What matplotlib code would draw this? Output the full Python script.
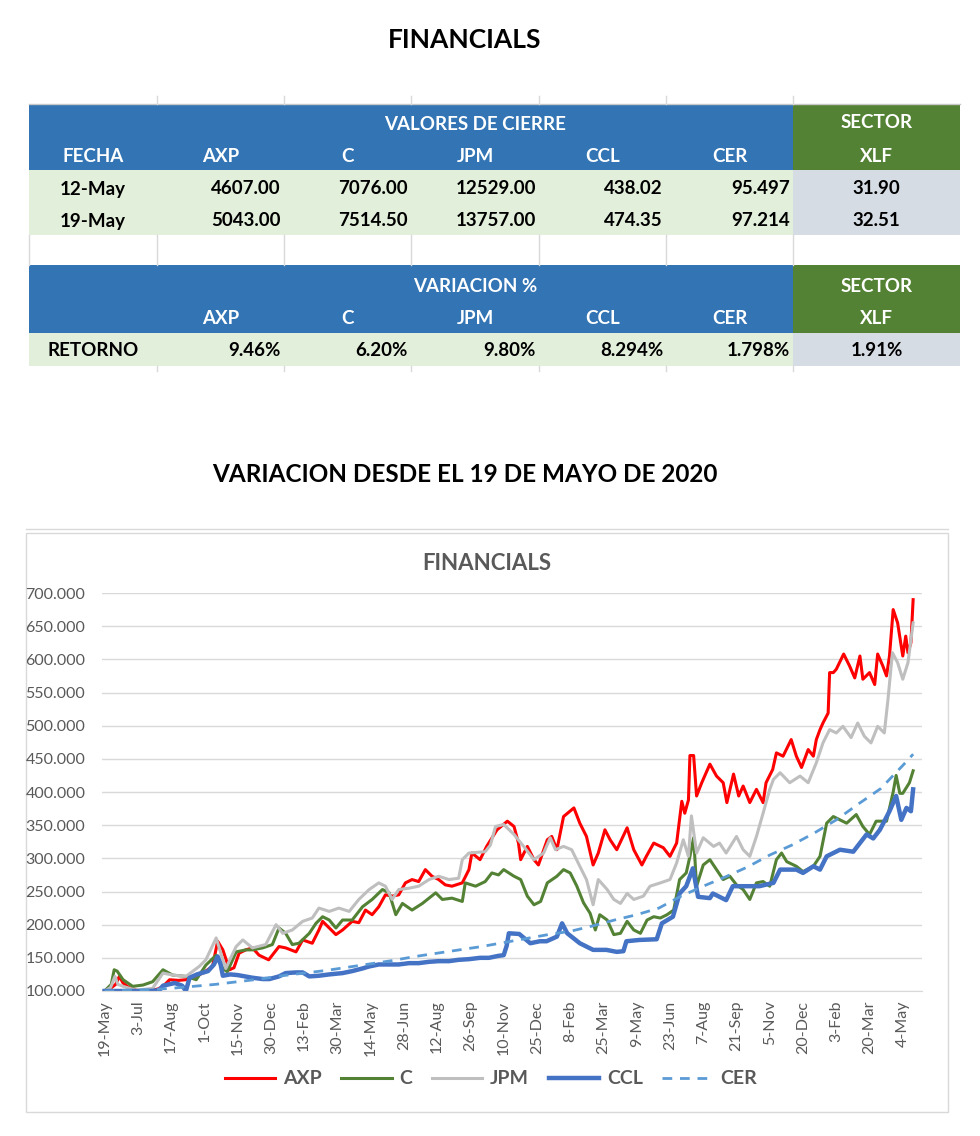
import numpy as np
import pandas as pd
import matplotlib.pyplot as plt
from matplotlib.patches import Rectangle
from matplotlib.ticker import FuncFormatter

plt.rcParams['font.family'] = ['Lato', 'DejaVu Sans']

# ---- table data ----
fechas = ['12-May', '19-May']
tickers = ['AXP', 'C', 'JPM', 'CCL', 'CER']
cierre_12 = [4607.00, 7076.00, 12529.00, 438.02, 95.497]
cierre_19 = [5043.00, 7514.50, 13757.00, 474.35, 97.214]
decimales = [2, 2, 2, 2, 3]
ret_decimales = [2, 2, 2, 3, 3]
xlf = [31.90, 32.51]

# ---- chart data (days since 19-May-2020, value base 100) ----
base = pd.Timestamp('2020-05-19')

axp_days = [0, 8, 15, 20, 25, 32, 43, 60, 72, 79, 88, 100, 110, 122, 133, 146, 153, 160, 169, 175,
            182, 191, 200, 209, 222, 236, 245, 259, 268, 281, 290, 295, 304, 313, 322, 335, 344, 353,
            362, 371, 380, 389, 398, 407, 416, 425, 434, 443, 452, 461, 470, 484, 493, 497, 508, 517,
            531, 545, 554, 560, 563, 572, 581, 587, 599, 605, 612, 621, 635, 643, 652, 661, 668, 677,
            684, 693, 707, 716, 727, 733, 743, 756, 765, 774, 781, 785, 790, 792, 797, 801, 808, 819,
            828, 837, 842, 851, 858, 864, 873, 882, 891, 895, 904, 909, 918, 929, 936, 943, 952, 959,
            963, 968, 972, 979, 981, 986, 990, 1000, 1008, 1015, 1022, 1026, 1035, 1042, 1046, 1053,
            1058, 1062, 1067, 1073, 1080, 1084, 1087, 1091, 1094]
axp_vals = [100, 104, 110, 122, 112, 106, 101, 100, 103, 107, 117, 116, 117, 122, 127, 137, 175, 162, 132, 135,
            157, 162, 165, 154, 147, 167, 165, 159, 177, 172, 192, 205, 195, 185, 192, 205, 203, 222,
            215, 227, 245, 243, 245, 263, 268, 265, 283, 273, 268, 260, 258, 263, 283, 308, 298, 318,
            343, 356, 348, 323, 298, 318, 298, 290, 328, 333, 313, 363, 376, 353, 333, 290, 308, 343,
            328, 313, 346, 313, 290, 303, 323, 316, 303, 323, 386, 368, 388, 455, 455, 394, 414, 442,
            424, 414, 384, 427, 394, 409, 384, 404, 384, 414, 434, 459, 454, 479, 454, 437, 464, 454,
            479, 494, 504, 519, 580, 580, 585, 608, 590, 572, 605, 570, 580, 562, 608, 590,
            575, 605, 675, 655, 605, 635, 610, 625, 690]

jpm_days = [0, 8, 14, 18, 25, 43, 65, 79, 92, 110, 128, 137, 151, 160, 164, 178, 187, 200, 218, 232,
            241, 254, 268, 281, 290, 304, 317, 331, 344, 358, 371, 380, 389, 398, 412, 425, 439, 452,
            466, 479, 484, 493, 515, 522, 529, 540, 554, 567, 581, 594, 603, 610, 621, 632, 643, 652,
            661, 668, 680, 689, 698, 707, 716, 729, 738, 752, 765, 774, 783, 790, 794, 801, 810, 824,
            832, 841, 855, 864, 873, 882, 891, 900, 905, 914, 927, 941, 952, 963, 972, 981, 990, 999,
            1010, 1019, 1028, 1037, 1046, 1055, 1060, 1066, 1073, 1080, 1087, 1094]
jpm_vals = [100, 105, 122, 110, 107, 101, 104, 127, 124, 122, 137, 147, 180, 147, 134, 167, 177, 165, 170, 200,
            187, 192, 205, 210, 225, 220, 225, 220, 238, 253, 263, 258, 238, 253, 255, 258, 268, 273,
            268, 270, 298, 308, 310, 320, 348, 351, 336, 318, 298, 308, 331, 313, 318, 313, 288, 268,
            230, 268, 253, 238, 232, 247, 238, 243, 258, 263, 268, 293, 328, 303, 364, 308, 331, 318,
            323, 308, 333, 313, 303, 333, 368, 404, 419, 429, 414, 424, 414, 444, 474, 494, 489, 499,
            482, 504, 484, 474, 499, 489, 540, 610, 595, 570, 595, 655]

c_days = [0, 9, 13, 17, 25, 38, 52, 65, 79, 92, 110, 124, 137, 151, 160, 166, 178, 191, 200, 214,
          227, 236, 245, 254, 263, 277, 286, 295, 304, 313, 322, 335, 349, 362, 376, 385, 394, 403,
          416, 430, 448, 457, 470, 484, 488, 502, 515, 524, 533, 540, 554, 563, 572, 581, 590, 599,
          612, 621, 630, 639, 648, 657, 664, 670, 680, 689, 698, 707, 716, 725, 734, 743, 752, 761,
          770, 778, 787, 792, 797, 801, 810, 819, 828, 837, 846, 855, 864, 873, 882, 891, 900, 909,
          916, 923, 936, 945, 959, 968, 977, 986, 995, 1004, 1017, 1026, 1035, 1044, 1058, 1067,
          1071, 1076, 1080, 1089, 1094]
c_vals = [100, 110, 132, 130, 117, 107, 109, 114, 132, 124, 122, 117, 139, 154, 134, 129, 159, 162, 162, 165,
          170, 195, 187, 170, 172, 187, 202, 212, 207, 195, 207, 207, 227, 238, 253, 248, 215, 232,
          222, 232, 248, 238, 240, 235, 263, 258, 265, 278, 275, 283, 273, 268, 243, 230, 235, 263,
          273, 283, 278, 258, 233, 217, 192, 215, 207, 185, 187, 205, 192, 187, 207, 212, 210, 215,
          222, 268, 278, 303, 331, 258, 290, 298, 283, 268, 273, 260, 253, 238, 263, 265, 258, 298,
          308, 295, 288, 280, 288, 303, 353, 363, 358, 353, 366, 348, 336, 356, 356, 400,
          425, 398, 398, 414, 432]

ccl_days = [0, 30, 60, 74, 79, 95, 105, 110, 115, 125, 140, 148, 153, 157, 160, 170, 180, 200, 214, 223,
            236, 245, 259, 268, 277, 290, 304, 322, 335, 349, 358, 371, 380, 398, 412, 425, 439, 452,
            466, 479, 493, 508, 520, 533, 540, 544, 547, 561, 576, 589, 598, 612, 619, 626, 643, 661,
            679, 693, 702, 706, 724, 747, 754, 769, 778, 787, 796, 803, 819, 823, 841, 850, 868, 886,
            905, 914, 936, 945, 959, 968, 977, 995, 1013, 1022, 1031, 1040, 1049, 1062, 1071, 1078,
            1085, 1091, 1094]
ccl_vals = [100, 100, 100, 101, 108, 112, 108, 100, 120, 125, 130, 140, 152, 140, 123, 125, 124, 120, 118, 118,
            122, 127, 128, 128, 122, 123, 125, 127, 130, 134, 137, 140, 140, 140, 142, 142, 144, 145,
            145, 147, 148, 150, 150, 153, 154, 168, 187, 186, 172, 175, 175, 182, 202, 187, 172, 162,
            162, 159, 160, 175, 177, 178, 202, 212, 247, 258, 285, 242, 240, 247, 237, 258, 258, 258,
            263, 283, 283, 278, 288, 283, 303, 313, 310, 323, 336, 330, 343, 371, 394, 358,
            376, 371, 404]

cer_days = [0, 30, 60, 90, 120, 150, 180, 210, 240, 270, 300, 330, 360, 390, 420, 450, 480, 510, 540,
            570, 600, 630, 660, 690, 720, 750, 780, 810, 840, 870, 900, 930, 960, 990, 1020, 1050,
            1080, 1094]
cer_vals = [100, 101, 102, 104, 107, 110, 114, 118, 123, 127, 131, 136, 141, 146, 152, 157, 162, 167, 173,
            179, 185, 190, 198, 207, 215, 225, 243, 258, 272, 287, 305, 320, 338, 358, 382, 405,
            440, 457]

series = [
    ('AXP', axp_days, axp_vals, dict(color='#FF0000', lw=2.2)),
    ('C', c_days, c_vals, dict(color='#548235', lw=2.2)),
    ('JPM', jpm_days, jpm_vals, dict(color='#BFBFBF', lw=2.2)),
    ('CCL', ccl_days, ccl_vals, dict(color='#4472C4', lw=3.2)),
    ('CER', cer_days, cer_vals, dict(color='#5B9BD5', lw=2.0, dashes=(3.5, 2.8))),
]

W, H = 980, 1136
fig = plt.figure(figsize=(W / 100, H / 100), dpi=100)

# page layer in pixel coordinates
bg = fig.add_axes([0, 0, 1, 1])
bg.set_xlim(0, W)
bg.set_ylim(H, 0)
bg.axis('off')

BLUE = '#3274B4'
GREEN = '#548235'
LGREEN = '#E2EFDA'
LGRAY = '#D6DCE4'
GRID = '#D9D9D9'


def cell(x0, x1, y0, y1, color):
    bg.add_patch(Rectangle((x0, y0), x1 - x0, y1 - y0, facecolor=color, edgecolor='none'))


def txt(x, y, s, color='black', ha='center', size=13.5, weight='bold'):
    bg.text(x, y, s, color=color, ha=ha, va='center', fontsize=size, fontweight=weight)


cols = [29, 157, 284, 411, 539, 666, 793, 960]
centers = [(cols[i] + cols[i + 1]) / 2 for i in range(len(cols) - 1)]

bg.text(465, 40, 'FINANCIALS', ha='center', va='center', fontsize=19, fontweight='bold')

# faint spreadsheet grid
bg.plot([29, 960], [104, 104], color='#C8C8C8', lw=1)
for x in cols[1:-1]:
    bg.plot([x, x], [96, 104], color=GRID, lw=1)
    bg.plot([x, x], [235, 265], color=GRID, lw=1)
    bg.plot([x, x], [366, 371], color=GRID, lw=1)
bg.plot([cols[0], cols[0]], [235, 265], color=GRID, lw=1)

# block 1: closing values
cell(cols[0], cols[6], 105, 170, BLUE)
cell(cols[6], cols[7], 105, 170, GREEN)
cell(cols[0], cols[6], 170, 235, LGREEN)
cell(cols[6], cols[7], 170, 235, LGRAY)
txt((cols[1] + cols[6]) / 2, 124, 'VALORES DE CIERRE', color='white')
txt(centers[6], 123, 'SECTOR', color='white')
txt(centers[0], 157, 'FECHA', color='white')
for i, t in enumerate(tickers):
    txt(centers[i + 1], 157, t, color='white')
txt(centers[6], 157, 'XLF', color='white')
for r, (f, vals) in enumerate(zip(fechas, [cierre_12, cierre_19])):
    y = 189 + r * 32
    txt(centers[0], y, f)
    for i, v in enumerate(vals):
        txt(cols[i + 2] - 3, y, f'{v:.{decimales[i]}f}', ha='right')
    txt(centers[6], y, f'{xlf[r]:.2f}')

# block 2: returns
cell(cols[0], cols[6], 265, 333, BLUE)
cell(cols[6], cols[7], 265, 333, GREEN)
cell(cols[0], cols[6], 333, 366, LGREEN)
cell(cols[6], cols[7], 333, 366, LGRAY)
txt((cols[1] + cols[6]) / 2, 286, 'VARIACION %', color='white')
txt(centers[6], 286, 'SECTOR', color='white')
for i, t in enumerate(tickers):
    txt(centers[i + 1], 319, t, color='white')
txt(centers[6], 319, 'XLF', color='white')
txt(centers[0], 351, 'RETORNO')
for i in range(len(tickers)):
    ret = (cierre_19[i] / cierre_12[i] - 1) * 100
    txt(cols[i + 2] - 3, 351, f'{ret:.{ret_decimales[i]}f}%', ha='right')
txt(centers[6], 351, f'{(xlf[1] / xlf[0] - 1) * 100:.2f}%')

bg.text(465, 475, 'VARIACION DESDE EL 19 DE MAYO DE 2020', ha='center', va='center',
        fontsize=17.5, fontweight='bold')

# chart frame
bg.plot([26, 948], [529, 529], color=GRID, lw=1)
bg.add_patch(Rectangle((26, 533), 922, 579, facecolor='white', edgecolor=GRID, lw=1))
bg.text(487, 564, 'FINANCIALS', ha='center', va='center', fontsize=16, fontweight='bold', color='#595959')

# chart axes
x0, x1, y_top, y_bot = 102, 922, 593, 991
ax = fig.add_axes([x0 / W, 1 - y_bot / H, (x1 - x0) / W, (y_bot - y_top) / H])
for name, d, v, kw in series:
    ax.plot(base + pd.to_timedelta(d, unit='D'), v, label=name, solid_joinstyle='round', **kw)

ax.set_ylim(100, 700)
ax.set_xlim(base - pd.Timedelta(days=3.5), base + pd.Timedelta(days=1106))
ax.set_yticks(np.arange(100, 701, 50))
ax.yaxis.set_major_formatter(FuncFormatter(lambda v, p: f'{v:.3f}'))
ticks = pd.date_range(base, periods=25, freq='45D')
ax.set_xticks(ticks)
ax.set_xticklabels([f'{t.day}-{t.strftime("%b")}' for t in ticks], rotation=90)
ax.tick_params(axis='both', length=0, labelsize=11.5, labelcolor='#595959')
ax.tick_params(axis='y', pad=12)
ax.tick_params(axis='x', pad=7)
ax.grid(axis='y', color=GRID, lw=1)
ax.set_axisbelow(True)
for s in ['top', 'right', 'left']:
    ax.spines[s].set_visible(False)
ax.spines['bottom'].set_color(GRID)

fig.legend(loc='center', bbox_to_anchor=(491 / W, 1 - 1079 / H), ncol=5, frameon=False,
           prop={'weight': 'bold', 'size': 14}, labelcolor='#595959',
           handlelength=2.6, handletextpad=0.4, columnspacing=1.0)

plt.savefig('out.png', dpi=100)
